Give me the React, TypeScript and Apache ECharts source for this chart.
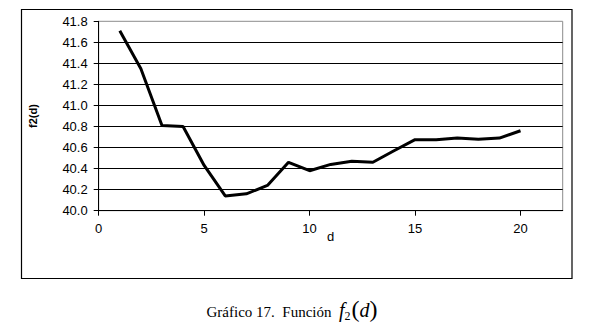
import React, { useEffect, useRef } from "react";
import * as echarts from "echarts";

const dValues = [1, 2, 3, 4, 5, 6, 7, 8, 9, 10, 11, 12, 13, 14, 15, 16, 17, 18, 19, 20];
const f2Values = [41.71, 41.35, 40.81, 40.8, 40.43, 40.14, 40.16, 40.24, 40.46, 40.38, 40.44, 40.47, 40.46, 40.57, 40.675, 40.675, 40.69, 40.68, 40.69, 40.76];
const xTicks = [0, 5, 10, 15, 20];
const yMin = 40.0;
const yMax = 41.8;
const yStep = 0.2;
const xMax = 22;

export default function App() {
  const ref = useRef<HTMLDivElement>(null);
  useEffect(() => {
    document.body.style.margin = "0";
    const chart = echarts.init(ref.current!, null, { renderer: "svg" });
    chart.setOption({
      animation: false,
      backgroundColor: "#fff",
      grid: {
        left: 98.7,
        top: 21.3,
        right: 36.3,
        bottom: 112.3,
        show: true,
        borderColor: "#8c8c8c",
        borderWidth: 1,
      },
      xAxis: {
        type: "value",
        min: 0,
        max: xMax,
        interval: 5,
        name: "d",
        nameLocation: "middle",
        nameGap: 19,
        nameMoveOverlap: false,
        nameTextStyle: { fontFamily: "Liberation Sans", fontSize: 13, color: "#000" },
        axisLine: { show: true, lineStyle: { color: "#000", width: 1 } },
        axisTick: { show: true, length: 5, lineStyle: { color: "#000" }, customValues: xTicks },
        axisLabel: {
          customValues: xTicks,
          margin: 11,
          fontFamily: "Liberation Sans",
          fontSize: 13,
          color: "#000",
        },
        splitLine: { show: false },
      },
      yAxis: {
        type: "value",
        min: yMin,
        max: yMax,
        interval: yStep,
        name: "f2(d)",
        nameLocation: "middle",
        nameGap: 60,
        nameMoveOverlap: false,
        nameTextStyle: { fontFamily: "Liberation Sans", fontSize: 11, fontWeight: "bold", color: "#000" },
        axisLine: { show: true, lineStyle: { color: "#000", width: 1 } },
        axisTick: { show: true, length: 5, lineStyle: { color: "#000" } },
        axisLabel: {
          margin: 11,
          fontFamily: "Liberation Sans",
          fontSize: 13,
          color: "#000",
          formatter: (v: number) => v.toFixed(1),
        },
        splitLine: { show: true, showMaxLine: false, showMinLine: false, lineStyle: { color: "#000", width: 1 } },
      },
      series: [
        {
          type: "line",
          data: dValues.map((d, i) => [d, f2Values[i]]),
          showSymbol: false,
          symbol: "none",
          lineStyle: { color: "#000", width: 3 },
          z: 5,
        },
      ],
      graphic: [
        {
          type: "rect",
          shape: { x: 21.5, y: 9.5, width: 550.5, height: 269 },
          style: { fill: "none", stroke: "#000", lineWidth: 1.2 },
          silent: true,
        },
        {
          type: "text",
          x: 292,
          y: 309,
          style: {
            text: "{a|Gráfico 17.  Función  }{f|f}{s|2}{p|(}{f|d}{p|)}",
            align: "center",
            verticalAlign: "middle",
            rich: {
              a: { fontFamily: "Liberation Serif", fontSize: 15, fill: "#000", lineHeight: 26, padding: [6, 0, 0, 0] },
              f: { fontFamily: "Liberation Serif", fontSize: 20, fontStyle: "italic", fill: "#000", lineHeight: 26, padding: [2, 0, 0, 0] },
              s: { fontFamily: "Liberation Serif", fontSize: 12, fill: "#000", lineHeight: 26, padding: [14, 1, 0, 0] },
              p: { fontFamily: "Liberation Serif", fontSize: 24, fill: "#000", lineHeight: 26 },
            },
          },
        },
      ],
    });
    return () => chart.dispose();
  }, []);
  return <div ref={ref} style={{ width: 599, height: 323 }} />;
}
